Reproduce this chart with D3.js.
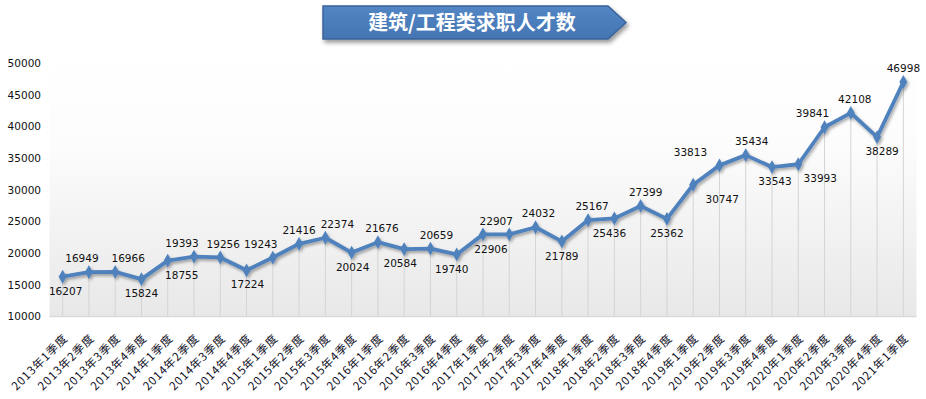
<!DOCTYPE html>
<html><head><meta charset="utf-8">
<script src="https://cdn.jsdelivr.net/npm/d3@7"></script>
<style>html,body{margin:0;padding:0;background:#fff;}svg{display:block;}</style>
</head><body>
<script>
const title = "建筑/工程类求职人才数";
const categories = ["2013年1季度","2013年2季度","2013年3季度","2013年4季度","2014年1季度","2014年2季度","2014年3季度","2014年4季度","2015年1季度","2015年2季度","2015年3季度","2015年4季度","2016年1季度","2016年2季度","2016年3季度","2016年4季度","2017年1季度","2017年2季度","2017年3季度","2017年4季度","2018年1季度","2018年2季度","2018年3季度","2018年4季度","2019年1季度","2019年2季度","2019年3季度","2019年4季度","2020年1季度","2020年2季度","2020年3季度","2020年4季度","2021年1季度"];
const values = [16207,16949,16966,15824,18755,19393,19256,17224,19243,21416,22374,20024,21676,20584,20659,19740,22906,22907,24032,21789,25167,25436,27399,25362,30747,33813,35434,33543,33993,39841,42108,38289,46998];
const yTicks = [10000,15000,20000,25000,30000,35000,40000,45000,50000];
// label layout (above/below, horizontal nudge)
const labelSide = ["b","a","a","b","b","a","a","b","a","a","a","b","a","b","a","b","b","a","a","b","a","b","a","b","b","a","a","b","b","a","a","b","a"];
const labelNudge = [3,-7,13,0,14,-12,3,1,-12,0,12,1,4,-4,6,-5,8,-13,3,0,4,-5,5,0,29,-29,6,3,22,-12,4,5,0];

const W = 926, H = 399;
const svg = d3.select("body").append("svg").attr("width", W).attr("height", H);
const defs = svg.append("defs");

const bg = defs.append("linearGradient").attr("id","bg").attr("x1",0).attr("y1",0).attr("x2",0).attr("y2",1);
bg.append("stop").attr("offset","0%").attr("stop-color","#ffffff");
bg.append("stop").attr("offset","35%").attr("stop-color","#fcfcfc");
bg.append("stop").attr("offset","100%").attr("stop-color","#e8e8e8");

const tg = defs.append("linearGradient").attr("id","tg").attr("x1",0).attr("y1",0).attr("x2",0).attr("y2",1);
tg.append("stop").attr("offset","0%").attr("stop-color","#5386c4");
tg.append("stop").attr("offset","100%").attr("stop-color","#4474b3");

const sh = defs.append("filter").attr("id","sh").attr("x","-10%").attr("y","-10%").attr("width","130%").attr("height","140%");
sh.append("feDropShadow").attr("dx",1.5).attr("dy",2).attr("stdDeviation",1.5).attr("flood-color","#000").attr("flood-opacity",0.35);
const tsh = defs.append("filter").attr("id","tsh").attr("x","-10%").attr("y","-20%").attr("width","130%").attr("height","160%");
tsh.append("feDropShadow").attr("dx",2).attr("dy",3).attr("stdDeviation",2).attr("flood-color","#000").attr("flood-opacity",0.4);

const pLeft = 49.5, pRight = 916.5, pTop = 55, pBottom = 316;
const x = d3.scaleBand().domain(categories).range([pLeft, pRight]).paddingInner(0).paddingOuter(0);
const cx = d => x(d) + x.bandwidth()/2;
const y = d3.scaleLinear().domain([10000, 50000]).range([pBottom, 63]);

// plot area
svg.append("rect").attr("x", pLeft).attr("y", pTop).attr("width", pRight-pLeft).attr("height", pBottom-pTop).attr("fill","url(#bg)");

// drop lines
svg.append("g").selectAll("line").data(values).join("line")
  .attr("x1",(d,i)=>cx(categories[i])).attr("x2",(d,i)=>cx(categories[i]))
  .attr("y1",d=>y(d)).attr("y2",pBottom)
  .attr("stroke","#d4d4d4").attr("stroke-width",1);

// x axis line
svg.append("line").attr("x1",pLeft).attr("x2",pRight).attr("y1",pBottom+0.5).attr("y2",pBottom+0.5).attr("stroke","#d9d9d9").attr("stroke-width",1.5);

// y axis labels
const yAxis = d3.axisLeft(y).tickValues(yTicks).tickSize(0).tickPadding(0).tickFormat(d3.format("d"));
const ya = svg.append("g").attr("transform","translate(41,0)").call(yAxis);
ya.select(".domain").remove();
ya.selectAll("text").attr("font-family","DejaVu Sans, Verdana, sans-serif").attr("font-size","10.5px").attr("fill","#111").attr("dy","0.35em");

// x axis labels
const xAxis = d3.axisBottom(x).tickSize(0).tickPadding(0);
const xa = svg.append("g").attr("transform",`translate(0,${pBottom})`).call(xAxis);
xa.select(".domain").remove();
xa.selectAll("text")
  .attr("font-family","'Noto Sans CJK SC', sans-serif").attr("font-size","11.5px").attr("fill","#101025")
  .attr("letter-spacing","0.9px").attr("font-weight","normal")
  .attr("text-anchor","end").attr("dy",0).attr("y",0)
  .attr("transform","translate(6,23) rotate(-45)");

// line
const line = d3.line().x((d,i)=>cx(categories[i])).y(d=>y(d));
const lg = svg.append("g").attr("filter","url(#sh)");
lg.append("path").datum(values).attr("d",line).attr("fill","none").attr("stroke","#4f81bd").attr("stroke-width",3.8).attr("stroke-linejoin","round");
lg.selectAll("path.m").data(values).join("path").attr("class","m")
  .attr("d", d3.symbol().type(d3.symbolDiamond).size(55))
  .attr("transform",(d,i)=>`translate(${cx(categories[i])},${y(d)})`)
  .attr("fill","#4f81bd");

// data labels
svg.append("g").selectAll("text").data(values).join("text")
  .attr("x",(d,i)=>cx(categories[i]) + labelNudge[i])
  .attr("y",(d,i)=>y(d) + (labelSide[i]==="a" ? -13.5 : 14.5))
  .attr("dy","0.35em")
  .attr("text-anchor","middle")
  .attr("font-family","DejaVu Sans, Verdana, sans-serif").attr("font-size","10.5px").attr("fill","#111")
  .text(d=>d);

// title arrow box
const tx0 = 323, tx1 = 608, tx2 = 626, ty0 = 6, ty1 = 39;
svg.append("path")
  .attr("d",`M${tx0},${ty0}L${tx1},${ty0}L${tx2},${(ty0+ty1)/2}L${tx1},${ty1}L${tx0},${ty1}Z`)
  .attr("fill","url(#tg)").attr("stroke","#3a6399").attr("stroke-width",1.5).attr("filter","url(#tsh)");
svg.append("text").attr("x",472).attr("y",(ty0+ty1)/2).attr("dy","0.36em").attr("text-anchor","middle")
  .attr("font-family","'Noto Sans CJK SC', sans-serif").attr("font-weight","bold").attr("font-size","20px").attr("fill","#fff")
  .text(title);
</script>
</body></html>
